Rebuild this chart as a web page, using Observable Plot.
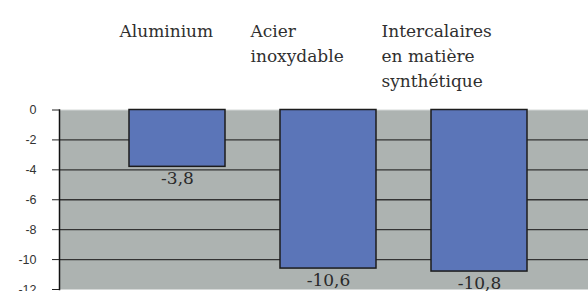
<!DOCTYPE html>
<html>
<head>
<meta charset="utf-8">
<script src="https://cdn.jsdelivr.net/npm/d3@7"></script>
<script src="https://cdn.jsdelivr.net/npm/@observablehq/plot@0.6"></script>
<style>
  html, body { margin: 0; padding: 0; background: #fff; overflow: hidden; }
  #wrap { position: relative; width: 588px; height: 291px; }
  #wrap > div, #wrap > svg { position: absolute; left: 0; top: 0; }
</style>
</head>
<body>
<div id="wrap"></div>
<script>
// Data
const categories = ["Aluminium", "Acier inoxydable", "Intercalaires en matière synthétique"];
const headerLabels = ["Aluminium", "Acier\ninoxydable", "Intercalaires\nen matière\nsynthétique"];
const values = [-3.8, -10.6, -10.8];
const yTicks = [0, -2, -4, -6, -8, -10, -12];
const gridValues = [-2, -4, -6, -8, -10];

const data = categories.map((c, i) => ({cat: c, header: headerLabels[i], value: values[i]}));

const serif = "'DejaVu Serif', 'Liberation Serif', serif";

const chart = Plot.plot({
  width: 588,
  height: 291,
  marginLeft: 59,
  marginRight: -9,
  marginTop: 109.5,
  marginBottom: 2,
  style: {background: "transparent"},
  x: {domain: categories, paddingInner: 0.366, paddingOuter: 0.459, axis: null},
  y: {domain: [-12, 0], axis: null, label: null},
  marks: [
    Plot.frame({fill: "#adb3b1", stroke: null}),
    Plot.ruleY([0], {stroke: "#d4d8d7", strokeWidth: 1}),
    Plot.ruleY(gridValues, {stroke: "#333", strokeWidth: 1.4}),
    Plot.barY(data, {x: "cat", y: "value", fill: "#5b75b8", stroke: "#1c1c1c", strokeWidth: 1.5}),
    Plot.text(data, {
      x: "cat", y: "value",
      text: d => String(d.value).replace(".", ","),
      lineAnchor: "top", dy: 5,
      fontSize: 17, fontFamily: serif, fill: "#2a2a2a"
    }),
    Plot.frame({anchor: "left", stroke: "#111", strokeWidth: 1.5}),
    Plot.axisY({
      ticks: yTicks,
      tickSize: 7,
      tickPadding: 16,
      tickFormat: d => String(d),
      label: null,
      fontSize: 12.5,
      fontFamily: "'Liberation Sans', Arial, sans-serif",
      fill: "#333",
      stroke: "#222"
    })
  ]
});

const header = Plot.plot({
  width: 588,
  height: 109,
  marginTop: 19,
  marginBottom: 0,
  marginLeft: 0,
  marginRight: 0,
  style: {background: "transparent"},
  x: {type: "point", domain: categories, range: [118, 381], padding: 0, axis: null},
  marks: [
    Plot.text(data, {
      x: "cat",
      frameAnchor: "top",
      text: "header",
      textAnchor: "start",
      lineAnchor: "top",
      lineHeight: 25 / 17,
      fontSize: 17,
      fontFamily: serif,
      fill: "#2f2f2f"
    })
  ]
});

const wrap = document.getElementById("wrap");
wrap.appendChild(chart);
wrap.appendChild(header);
</script>
</body>
</html>
